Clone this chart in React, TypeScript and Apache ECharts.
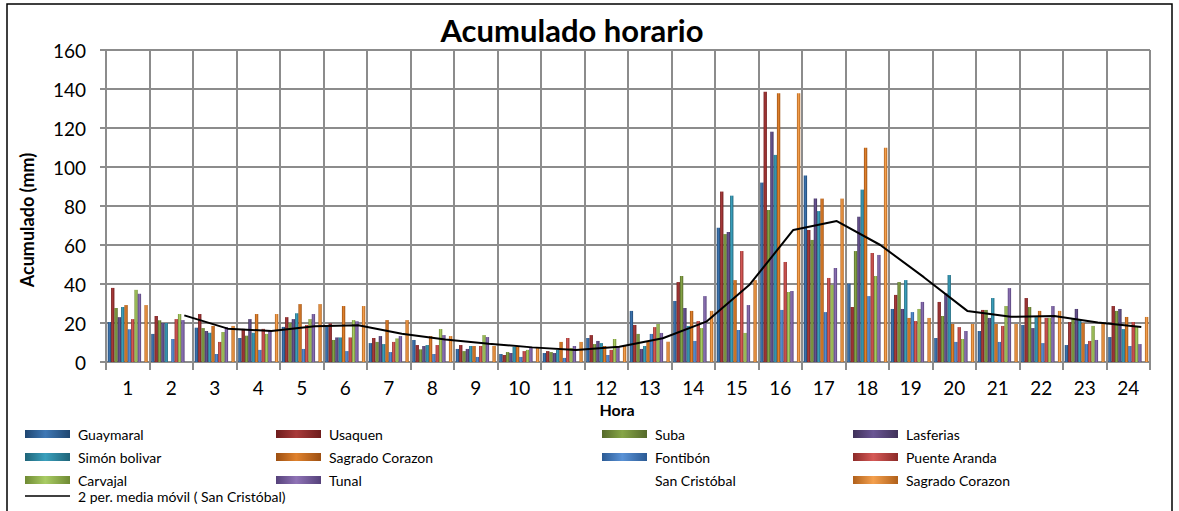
import React, { useEffect, useRef } from 'react';
import * as echarts from 'echarts';

// ---------- data ----------
const hours = ['1','2','3','4','5','6','7','8','9','10','11','12','13','14','15','16','17','18','19','20','21','22','23','24'];
const yTicks = [0, 20, 40, 60, 80, 100, 120, 140, 160];

const guaymaral = [20.5, 14.4, 17.6, 12.3, 18, 18, 9.7, 11.3, 6.7, 4.1, 4.6, 12.3, 26.2, 31.3, 68.9, 92, 95.6, 40.2, 27.2, 12.3, 15.9, 19, 8.7, 12.8];
const usaquen = [38, 23.6, 24.6, 17, 23, 19.8, 12.3, 8.7, 8.7, 3.6, 5.6, 13.8, 19, 41, 87.4, 138.6, 67.7, 28.2, 34.4, 30.8, 26.7, 32.8, 20.5, 28.7];
const suba = [27.7, 21.4, 17.4, 13.5, 20, 11.3, 10.3, 6.5, 5.6, 5.1, 5.1, 9.2, 14.4, 44.1, 65.6, 78, 62.6, 56.9, 41, 23.6, 26.7, 28.2, 22, 26.2];
const lasferias = [23, 20, 15.9, 22, 22, 12.6, 13.3, 8.2, 6.7, 4.6, 4.6, 10.8, 6.7, 27.7, 66.7, 118.1, 83.8, 74.5, 27.2, 35.2, 22.6, 17.4, 27.2, 27.2];
const simonBolivar = [28.2, 20, 15, 15, 25, 12.6, 9.2, 8.7, 8.2, 7.7, 6.2, 9.7, 8.2, 18.5, 85.3, 106.2, 77.4, 88.4, 42, 44.6, 32.8, 23, 21.5, 16.9];
const sagradoCorazon = [29.2, null, 18.5, 24.6, 29.7, 28.7, 21.5, 13.3, 8.2, 7.7, 10.3, 8.2, 10.4, 26.2, 42, 137.8, 83.8, 109.9, 22.6, 19.5, 19.5, 26.2, 20, 23.1];
const fontibon = [16.8, 11.8, 4.1, 6.2, 6.7, 5.6, 5.1, 4.1, 2.6, 2.6, 2.1, 3.6, 14.4, 10.8, 16.4, 26.7, 25.6, 33.8, 25.6, 10.3, 10.3, 9.7, 9.2, 8.2];
const puenteAranda = [22, 22, 10.3, 17, 19, 12.6, 10.3, 8.7, 8.2, 5.6, 12.3, 6.2, 17.9, 21, 56.9, 51.3, 43.1, 55.9, 21, 17.9, 18.5, 22.6, 10.8, 20.5];
const carvajal = [37, 24.6, 15.4, 14.4, 22, 21.5, 12.1, 16.9, 13.8, 6.2, 7.2, 11.8, 19.5, 17.4, 14.9, 35.9, 39.5, 44.1, 27.2, 11.8, 28.7, 22.6, 18.5, 18];
const tunal = [35, 21.5, 17.8, 16.4, 24.6, 20.9, 13.3, 13.8, 12.8, 7.7, 8.2, 8.2, 14.9, 33.8, 29.2, 36.4, 48.2, 54.9, 30.8, 15.9, 37.9, 28.7, 11.3, 9.2];
const sanCristobal = [null, null, null, null, null, null, null, null, null, null, null, null, null, null, null, null, null, null, null, null, null, null, null, null];
const sagradoCorazon2 = [29.2, null, 18.5, 24.6, 29.7, 28.7, 21.5, 13.3, 8.2, 7.7, 10.3, 8.2, 10.4, 26.2, 42, 137.8, 83.8, 109.9, 22.6, 19.5, 19.5, 26.2, 20, 23.1];

// moving average (2 periods) of San Cristóbal, hours 2..24
const maHours = ['2','3','4','5','6','7','8','9','10','11','12','13','14','15','16','17','18','19','20','21','22','23','24'];
const maValues = [23.9, 17.1, 15.9, 18.3, 18.8, 14.5, 11.5, 9.4, 7.5, 6.2, 7.8, 12.2, 20.7, 39.8, 67.7, 72.3, 60, 43.5, 26.2, 23.2, 23.6, 20.2, 17.9];

const MA_NAME = '2 per. media móvil ( San Cristóbal)';

const stations = [
  { name: 'Guaymaral', data: guaymaral },
  { name: 'Usaquen', data: usaquen },
  { name: 'Suba', data: suba },
  { name: 'Lasferias', data: lasferias },
  { name: 'Simón bolivar', data: simonBolivar },
  { name: 'Sagrado Corazon', data: sagradoCorazon },
  { name: 'Fontibón', data: fontibon },
  { name: 'Puente Aranda', data: puenteAranda },
  { name: 'Carvajal', data: carvajal },
  { name: 'Tunal', data: tunal },
  { name: 'San Cristóbal', data: sanCristobal },
  { name: 'Sagrado Corazon 2', data: sagradoCorazon2 },
];

// ---------- styles ----------
const barColors: Record<string, [string, string]> = {
  'Guaymaral': ['#1f4670', '#3f78b5'],
  'Usaquen': ['#6e1c1c', '#a83a3a'],
  'Suba': ['#55692a', '#86a547'],
  'Lasferias': ['#3f3159', '#6a5594'],
  'Simón bolivar': ['#1f6478', '#3aa0bd'],
  'Sagrado Corazon': ['#9c4f12', '#e0822d'],
  'Fontibón': ['#2b5a94', '#5a92d6'],
  'Puente Aranda': ['#8c2a28', '#d65a57'],
  'Carvajal': ['#6f8a33', '#a9cc64'],
  'Tunal': ['#55417a', '#8f73b6'],
  'San Cristóbal': ['transparent', 'transparent'],
  'Sagrado Corazon 2': ['#b0601a', '#f4a04e'],
};

const LINE_OFFSET = 0.8; // position of the moving-average points within each hour slot

const legendLayout = [
  { name: 'Guaymaral', col: 0, row: 0 },
  { name: 'Simón bolivar', col: 0, row: 1 },
  { name: 'Carvajal', col: 0, row: 2 },
  { name: MA_NAME, col: 0, row: 3 },
  { name: 'Usaquen', col: 1, row: 0 },
  { name: 'Sagrado Corazon', col: 1, row: 1 },
  { name: 'Tunal', col: 1, row: 2 },
  { name: 'Suba', col: 2, row: 0 },
  { name: 'Fontibón', col: 2, row: 1 },
  { name: 'San Cristóbal', col: 2, row: 2 },
  { name: 'Lasferias', col: 3, row: 0 },
  { name: 'Puente Aranda', col: 3, row: 1 },
  { name: 'Sagrado Corazon 2', col: 3, row: 2 },
];
const colX = [25, 276, 602, 853];
const rowY = [435, 458, 481, 497];

const FONT = 'Lato, "Open Sans", sans-serif';

export default function App() {
  const ref = useRef<HTMLDivElement>(null);

  useEffect(() => {
    if (!ref.current) return;
    const chart = echarts.init(ref.current, undefined, { renderer: 'svg' });

    const barSeries = stations.map((s) => {
      const [dark, light] = barColors[s.name];
      const color =
        dark === 'transparent'
          ? 'transparent'
          : new echarts.graphic.LinearGradient(0, 0, 1, 0, [
              { offset: 0, color: dark },
              { offset: 0.45, color: light },
              { offset: 1, color: dark },
            ]);
      return {
        type: 'bar',
        name: s.name,
        data: s.data,
        xAxisIndex: 0,
        yAxisIndex: 0,
        barGap: '0%',
        barCategoryGap: '8%',
        itemStyle: { color },
        z: 3,
      };
    });

    const lineSeries = {
      type: 'line',
      name: MA_NAME,
      xAxisIndex: 1,
      yAxisIndex: 0,
      data: maHours.map((h, i) => [Number(h) - 1 + LINE_OFFSET, maValues[i]]),
      symbol: 'none',
      lineStyle: { color: '#000', width: 2 },
      itemStyle: { color: '#000' },
      z: 10,
    };

    const legends = legendLayout.map((l) => {
      const isLine = l.name === MA_NAME;
      return {
        data: [l.name],
        left: colX[l.col],
        top: rowY[l.row] - 8,
        orient: 'horizontal',
        padding: 0,
        itemWidth: 45,
        itemHeight: isLine ? 1.6 : 8,
        itemGap: 0,
        selectedMode: false,
        icon: 'rect',
        formatter: (n: string) => (n === 'Sagrado Corazon 2' ? 'Sagrado Corazon' : n),
        textStyle: { fontSize: 14, fontFamily: FONT, color: '#000', padding: [0, 0, 0, 3] },
      };
    });

    chart.setOption({
      animation: false,
      backgroundColor: '#fff',
      grid: { left: 106, top: 50, width: 1044, height: 312, containLabel: false },
      xAxis: [
        {
          type: 'category',
          data: hours,
          boundaryGap: true,
          axisLine: { show: true, lineStyle: { color: '#8c8c8c', width: 2 } },
          axisTick: { show: true, length: 8, interval: 0, lineStyle: { color: '#8c8c8c', width: 2 } },
          axisLabel: { fontSize: 19, fontFamily: FONT, color: '#000', margin: 16, interval: 0 },
          splitLine: { show: true, interval: 0, lineStyle: { color: '#8c8c8c', width: 2 } },
        },
        { type: 'value', min: 0, max: 24, show: false, gridIndex: 0 },
      ],
      yAxis: {
        type: 'value',
        min: yTicks[0],
        max: yTicks[yTicks.length - 1],
        interval: yTicks[1] - yTicks[0],
        axisLine: { show: true, lineStyle: { color: '#8c8c8c', width: 2 } },
        axisTick: { show: true, length: 6, lineStyle: { color: '#8c8c8c', width: 2 } },
        axisLabel: { fontSize: 19, fontFamily: FONT, color: '#000', margin: 20 },
        splitLine: { show: true, lineStyle: { color: '#8c8c8c', width: 2 } },
      },
      legend: legends,
      series: [...barSeries, lineSeries],
      graphic: [
        {
          type: 'rect',
          shape: { x: 7, y: 4, width: 1165, height: 530 },
          style: { fill: 'none', stroke: '#000', lineWidth: 1.5 },
          silent: true,
          z: 0,
        },
        {
          type: 'text',
          x: 572,
          y: 30,
          style: { text: 'Acumulado horario', font: `bold 31px ${FONT}`, fill: '#000', align: 'center', verticalAlign: 'middle' },
        },
        {
          type: 'text',
          x: 27,
          y: 220,
          rotation: Math.PI / 2,
          style: { text: 'Acumulado (mm)', font: `bold 18px ${FONT}`, fill: '#000', align: 'center', verticalAlign: 'middle' },
        },
        {
          type: 'text',
          x: 617,
          y: 409,
          style: { text: 'Hora', font: `bold 16px ${FONT}`, fill: '#000', align: 'center', verticalAlign: 'middle' },
        },
      ],
    });

    return () => chart.dispose();
  }, []);

  return (
    <div
      ref={ref}
      style={{ position: 'absolute', left: 0, top: 0, width: 1179, height: 511, background: '#fff' }}
    />
  );
}
